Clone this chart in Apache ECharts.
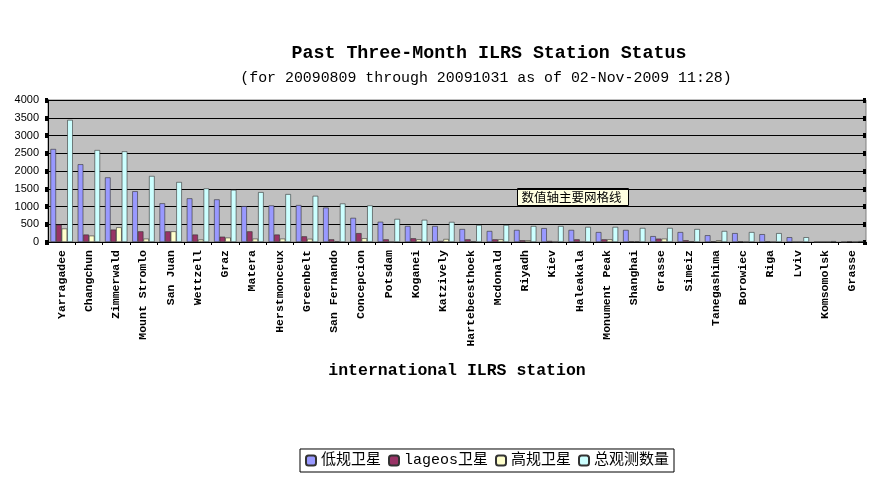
<!DOCTYPE html>
<html><head><meta charset="utf-8">
<script src="https://cdn.jsdelivr.net/npm/echarts@6/dist/echarts.min.js"></script>
<style>html,body{margin:0;padding:0;background:#fff}#c{width:891px;height:491px}</style>
</head><body><div id="c"></div>
<script>
var categories = ["Yarragadee","Changchun","Zimmerwald","Mount Stromlo","San Juan","Wettzell","Graz","Matera","Herstmonceux","Greenbelt","San Fernando","Concepcion","Potsdam","Koganei","Katzively","Hartebeesthoek","Mcdonald","Riyadh","Kiev","Haleakala","Monument Peak","Shanghai","Grasse","Simeiz","Tanegashima","Borowiec","Riga","Lviv","Komsomolsk","Grasse"];
var lowOrbit = [2620,2190,1820,1430,1090,1230,1200,1010,1030,1040,970,680,570,450,450,365,310,340,390,340,280,340,165,280,190,250,220,135,0,0];
var lageos   = [490,210,350,300,300,210,150,300,210,160,75,250,75,105,30,75,75,50,30,75,75,20,95,50,20,20,20,0,0,20];
var highOrbit= [380,180,415,95,300,70,125,95,95,90,20,105,0,75,85,20,75,50,0,0,75,20,95,20,50,0,0,0,0,0];
var total    = [3440,2590,2555,1860,1690,1510,1470,1405,1350,1300,1085,1030,650,625,565,480,480,450,450,425,425,395,395,365,310,280,250,135,25,25];
var yTicks = [0,500,1000,1500,2000,2500,3000,3500,4000];
var seriesNames = ["低规卫星","lageos卫星","高规卫星","总观测数量"];
var colors = ["#9999ff","#993366","#ffffcc","#ccffff"];

var chart = echarts.init(document.getElementById('c'), null, {renderer:'canvas'});
var data = [lowOrbit, lageos, highOrbit, total];
var series = data.map(function(d,i){
  return {name: seriesNames[i], type:'bar', data:d, barGap:'0%', barCategoryGap:'18%',
    itemStyle:{color:colors[i], borderColor:'#333', borderWidth:0.6}};
});
chart.setOption({
  animation:false,
  backgroundColor:'#fff',
  title:[{text:'Past Three-Month ILRS Station Status', left:484, textAlign:'center', top:39,
     textStyle:{fontFamily:'Liberation Mono', fontSize:18.3, fontWeight:'bold', color:'#000'}},
    {text:'(for 20090809 through 20091031 as of 02-Nov-2009 11:28)', left:481, textAlign:'center', top:66,
     textStyle:{fontFamily:'Liberation Mono', fontSize:14.9, fontWeight:'normal', color:'#000'}}],
  grid:{left:48, right:25, top:100, bottom:249, show:true, backgroundColor:'#c0c0c0', borderColor:'#808080', borderWidth:1},
  legend:{data:seriesNames, bottom:19, left:300, itemWidth:10, itemHeight:10, itemGap:7,
    borderColor:'#000', borderWidth:1, padding:[4,5,4,5], backgroundColor:'#fff',
    textStyle:{fontFamily:'Liberation Mono, Noto Sans CJK SC', fontSize:15, color:'#000'}},
  xAxis:{type:'category', data:categories,
    name:'international ILRS station', nameLocation:'middle', nameGap:120,
    nameTextStyle:{fontFamily:'Liberation Mono', fontSize:16.5, fontWeight:'bold', color:'#000'},
    axisLine:{lineStyle:{color:'#000', width:1}},
    axisTick:{show:true, length:3, lineStyle:{color:'#000'}},
    axisLabel:{rotate:90, interval:0, margin:8, fontFamily:'Liberation Mono', fontSize:11.5, fontWeight:'bold', color:'#000'}},
  yAxis:[{type:'value', min:0, max:4000, interval:500,
    axisLine:{show:true, lineStyle:{color:'#000'}},
    axisTick:{show:true, length:3, lineStyle:{color:'#000', width:5}},
    splitLine:{show:true, lineStyle:{color:'#000', width:1}},
    axisLabel:{fontFamily:'Liberation Sans', fontSize:11, color:'#000', margin:9,
      formatter:function(v){return yTicks.indexOf(v)>=0 ? String(v) : '';}}},
    {type:'value', min:0, max:4000, interval:500, position:'right',
    axisLine:{show:false}, axisTick:{show:true, inside:true, length:3, lineStyle:{color:'#000', width:5}},
    splitLine:{show:false}, axisLabel:{show:false}}],
  series: series,
  graphic:[{type:'group', left:517, top:188, children:[
    {type:'rect', shape:{x:0,y:0,width:111,height:17}, style:{fill:'#ffffe1', stroke:'#000', lineWidth:1}},
    {type:'text', x:4, y:2, style:{text:'数值轴主要网格线', font:'12.5px "Noto Sans CJK SC"', fill:'#000'}}]}]
});
</script></body></html>
